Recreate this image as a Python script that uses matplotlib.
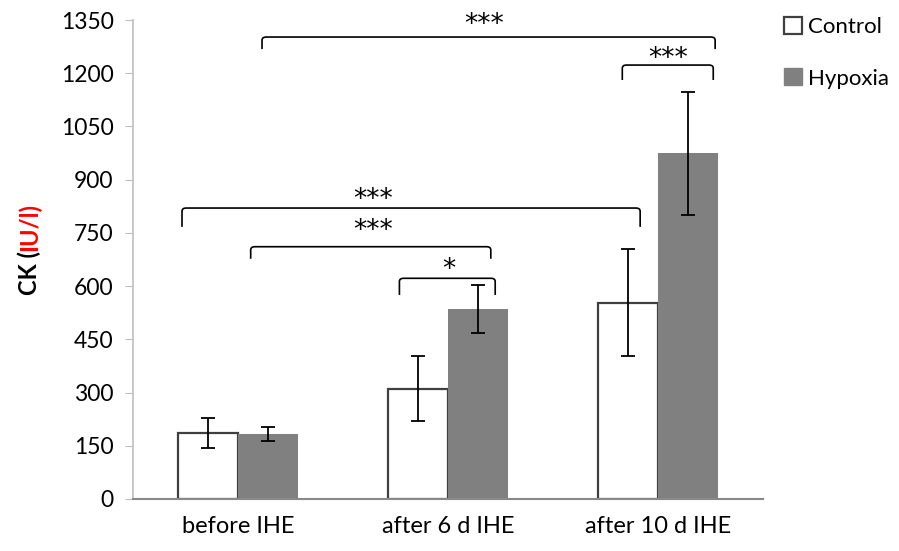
import matplotlib
matplotlib.use('Agg')
import matplotlib.pyplot as plt
import numpy as np
from matplotlib.path import Path
from matplotlib.patches import PathPatch, Patch

plt.rcParams['font.family'] = ['Lato', 'DejaVu Sans']

# data
categories = ['before IHE', 'after 6 d IHE', 'after 10 d IHE']
control_mean = [187, 311, 553]
control_err = [42, 91, 151]
hypoxia_mean = [184, 536, 974]
hypoxia_err = [20, 67, 173]

# significance brackets: (x_left, x_right, line_y, drop, label, label_x, label_y)
brackets = [
    (0.114, 2.271, 1302, 34, '***', 1.171, 1336),
    (1.829, 2.262, 1223, 42, '***', 2.048, 1240),
    (-0.267, 1.914, 820, 53, '***', 0.643, 844),
    (0.060, 1.203, 711, 34, '***', 0.643, 755),
    (0.768, 1.224, 622, 47, '*', 1.005, 644),
]

fig = plt.figure(figsize=(8.99, 5.51), dpi=100)
ax = fig.add_axes([0.148, 0.0944, 0.701, 0.8693])

x = np.arange(len(categories))
w = 0.285

ax.bar(x - w / 2, control_mean, w, color='white', edgecolor='#404040', linewidth=1.6, zorder=2)
ax.bar(x + w / 2, hypoxia_mean, w, color='#808080', edgecolor='#808080', linewidth=0, zorder=2)
ax.errorbar(x - w / 2, control_mean, yerr=control_err, fmt='none', ecolor='black',
            elinewidth=1.3, capsize=5, capthick=1.3, zorder=3)
ax.errorbar(x + w / 2, hypoxia_mean, yerr=hypoxia_err, fmt='none', ecolor='black',
            elinewidth=1.3, capsize=5, capthick=1.3, zorder=3)

# brackets with rounded corners
rx, ry = 0.02, 9
for x1, x2, yt, drop, lab, lx, ly in brackets:
    yb = yt - drop
    verts = [(x1, yb), (x1, yt - ry), (x1, yt), (x1 + rx, yt),
             (x2 - rx, yt), (x2, yt), (x2, yt - ry), (x2, yb)]
    codes = [Path.MOVETO, Path.LINETO, Path.CURVE3, Path.CURVE3,
             Path.LINETO, Path.CURVE3, Path.CURVE3, Path.LINETO]
    ax.add_patch(PathPatch(Path(verts, codes), facecolor='none', edgecolor='black',
                           linewidth=1.2, clip_on=False, zorder=4))
    ax.text(lx, ly, lab, ha='center', va='center', fontsize=19,
            family='DejaVu Sans', zorder=5)

ax.set_xlim(-0.5, 2.5)
ax.set_ylim(0, 1350)
ax.set_yticks(np.arange(0, 1351, 150))
ax.set_xticks(x)
ax.set_xticklabels(categories)
ax.tick_params(axis='y', length=6, color='#BFBFBF', labelsize=16.5, pad=8)
ax.tick_params(axis='x', length=0, labelsize=17, pad=12)

for s in ['top', 'right']:
    ax.spines[s].set_visible(False)
ax.spines['left'].set_color('#BFBFBF')
ax.spines['left'].set_linewidth(1.2)
ax.spines['bottom'].set_color('#898989')
ax.spines['bottom'].set_linewidth(1.5)

# y label with two colours
fig.text(0.033, 0.545, 'CK (', rotation=90, rotation_mode='anchor', ha='right',
         va='center', fontsize=17, fontweight='bold', color='black')
fig.text(0.033, 0.545, 'IU/l)', rotation=90, rotation_mode='anchor', ha='left',
         va='center', fontsize=17, fontweight='bold', color='red')

handles = [Patch(facecolor='white', edgecolor='#404040', linewidth=1.6),
           Patch(facecolor='#808080', edgecolor='#808080')]
fig.legend(handles, ['Control', 'Hypoxia'], loc='upper left',
           bbox_to_anchor=(0.862, 0.985), frameon=False, fontsize=16,
           handlelength=0.8, handleheight=0.8, handletextpad=0.3,
           labelspacing=1.4, borderaxespad=0)

fig.savefig('out.png', dpi=100)
